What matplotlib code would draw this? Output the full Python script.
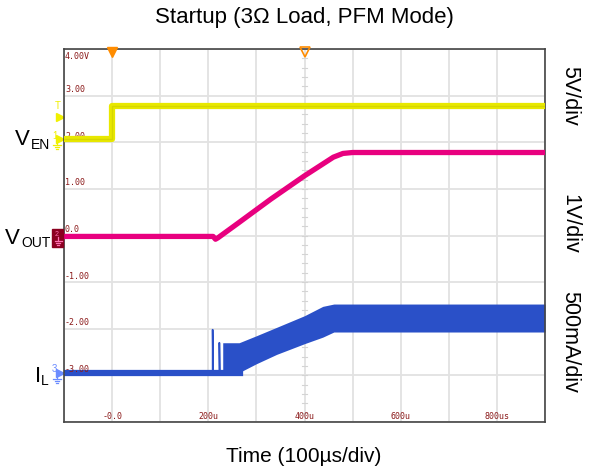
import matplotlib
matplotlib.use("Agg")
import matplotlib.pyplot as plt
from matplotlib.patches import Rectangle

plt.rcParams['font.family'] = ['Liberation Sans', 'DejaVu Sans']

# ----------------------------------------------------------------------
# Dados (tempo em us, amplitude em divisoes)
# ----------------------------------------------------------------------

ven_t = [-100, 0, 0, 900]
ven_v = [2.08, 2.08, 2.78, 2.78]

vout_t = [-100, 210, 215, 220, 260, 330, 400, 460, 480, 500, 900]
vout_v = [-0.02, -0.02, -0.08, -0.05, 0.25, 0.78, 1.28, 1.68, 1.76, 1.78, 1.78]

il_base_t = [-100, 266]
il_base_v = [-2.94, -2.94]

il_spike_t = [209, 209, 210, 223, 223, 224]
il_spike_v = [-2.94, -2.02, -2.94, -2.94, -2.30, -2.94]

il_band_t = [230, 264, 300, 342, 400, 438, 461, 900]
il_band_top = [-2.30, -2.30, -2.15, -1.97, -1.72, -1.52, -1.47, -1.47]
il_band_bot = [-2.94, -2.94, -2.75, -2.55, -2.32, -2.18, -2.07, -2.07]

y_ticks = [4, 3, 2, 1, 0, -1, -2, -3]
y_tick_labels = ['4.00V', '3.00', '2.00', '1.00', '0.0', '-1.00', '-2.00', '-3.00']
x_ticks = [0, 200, 400, 600, 800]
x_tick_labels = ['-0.0', '200u', '400u', '600u', '800us']

# ----------------------------------------------------------------------
# Figura
# ----------------------------------------------------------------------

W, H = 611, 471
X0, X1, Y0, Y1 = 64, 545, 49, 422
fig = plt.figure(figsize=(W / 100, H / 100), dpi=100)
ax = fig.add_axes([X0 / W, 1 - Y1 / H, (X1 - X0) / W, (Y1 - Y0) / H])
ax.set_xlim(-100, 900)
ax.set_ylim(-4, 4)

PX = 1000 / (X1 - X0)   # us por pixel
PY = 8 / (Y1 - Y0)      # div por pixel

for gx in range(-100, 901, 100):
    ax.axvline(gx, color='#e2e2e2', lw=1.3, zorder=0)
for gy in range(-4, 5):
    ax.axhline(gy, color='#e2e2e2', lw=1.3, zorder=0)

# marcas menores na linha central vertical
for k in range(-20, 21):
    ax.plot([394, 406], [k * 0.2, k * 0.2], color='#d4d4d4', lw=0.8, zorder=0)

ax.set_xticks([])
ax.set_yticks([])
for s in ax.spines.values():
    s.set_color('#444444')
    s.set_linewidth(1.2)

mono = dict(family='DejaVu Sans Mono', fontsize=6, color='#8b1a1a')
for v, lab in zip(y_ticks, y_tick_labels):
    if v == 4:
        ax.text(-98, v - 0.07, lab, va='top', ha='left', **mono)
    else:
        ax.text(-98, v + 0.03, lab, va='bottom', ha='left', **mono)
for t, lab in zip(x_ticks, x_tick_labels):
    ax.text(t, -3.98, lab, va='bottom', ha='center', **mono)

# ----------------------------------------------------------------------
# Sinais
# ----------------------------------------------------------------------

ax.plot(ven_t, ven_v, color='#e8e800', lw=4.5, solid_capstyle='butt', zorder=3)
ax.plot(ven_t, ven_v, color='#d6d600', lw=1.0, zorder=3)

ax.plot(vout_t, vout_v, color='#e8007f', lw=3.8, solid_joinstyle='round', zorder=3)

ax.plot(il_base_t, il_base_v, color='#2a50c8', lw=4.5, zorder=2)
ax.plot(il_spike_t, il_spike_v, color='#2a50c8', lw=1.2, zorder=2)
ax.fill_between(il_band_t, il_band_bot, il_band_top, color='#2a50c8', lw=0, zorder=2)

# ----------------------------------------------------------------------
# Marcadores do osciloscopio
# ----------------------------------------------------------------------

def px2data(xp, yp):
    return -100 + (xp - X0) * PX, 4 - (yp - Y0) * PY

def terra(xp, yp, cor):
    """Simbolo de terra desenhado com linhas (topo do simbolo em xp, yp)."""
    for dy, hw in [(4, 3.5), (6, 2.3), (8, 1.1)]:
        a = px2data(xp - hw, yp + dy)
        b = px2data(xp + hw, yp + dy)
        ax.plot([a[0], b[0]], [a[1], b[1]], color=cor, lw=0.9, clip_on=False, zorder=6)
    a = px2data(xp, yp)
    b = px2data(xp, yp + 4)
    ax.plot([a[0], b[0]], [a[1], b[1]], color=cor, lw=0.9, clip_on=False, zorder=6)

ax.plot([0], [3.93], marker='v', color='#ff8c00', ms=7, clip_on=False, zorder=5)
ax.plot([400], [3.93], marker='v', markerfacecolor='none', markeredgecolor='#ff8c00',
        ms=7, mew=1.2, clip_on=False, zorder=5)

amarelo = '#f0f000'
ax.plot(*px2data(60, 117), marker='>', color=amarelo, ms=6, clip_on=False)
ax.text(*px2data(58, 106), 'T', color=amarelo, fontsize=7, ha='center', va='center')
ax.plot(*px2data(60, 139), marker='>', color=amarelo, ms=6, clip_on=False)
ax.text(*px2data(55, 136), '1', color=amarelo, fontsize=7, ha='center', va='center')
terra(57, 141, amarelo)

ax.add_patch(Rectangle(px2data(52, 247), 11 * PX, 18 * PY, color='#8b0020',
                       clip_on=False, zorder=5))
ax.text(*px2data(57, 234), '2', color='#ff6fb0', fontsize=5, ha='center', va='center', zorder=6)
terra(58, 237, '#ff6fb0')

azul = '#6b8cff'
ax.plot(*px2data(60, 373), marker='>', color=azul, ms=6, clip_on=False)
ax.text(*px2data(54, 369), '3', color=azul, fontsize=7, ha='center', va='center')
terra(57, 375, azul)

# ----------------------------------------------------------------------
# Textos
# ----------------------------------------------------------------------

def fx(x):
    return x / W

def fy(y):
    return 1 - y / H

fig.text(fx(304), fy(18), 'Startup (3Ω Load, PFM Mode)', ha='center', va='center', fontsize=16)
fig.text(fx(304), fy(457), 'Time (100µs/div)', ha='center', va='center', fontsize=15)

fig.text(fx(15), fy(140), 'V', ha='left', va='center', fontsize=16)
fig.text(fx(31), fy(145), 'EN', ha='left', va='center', fontsize=10)
fig.text(fx(5), fy(238), 'V', ha='left', va='center', fontsize=16)
fig.text(fx(21), fy(243), 'OUT', ha='left', va='center', fontsize=10)
fig.text(fx(35), fy(376), 'I', ha='left', va='center', fontsize=16)
fig.text(fx(41), fy(381), 'L', ha='left', va='center', fontsize=10)

fig.text(fx(570), fy(96), '5V/div', rotation=270, ha='center', va='center', fontsize=15.5)
fig.text(fx(570), fy(224), '1V/div', rotation=270, ha='center', va='center', fontsize=15.5)
fig.text(fx(570), fy(342), '500mA/div', rotation=270, ha='center', va='center', fontsize=15.5)

fig.savefig('out.png', dpi=100)
